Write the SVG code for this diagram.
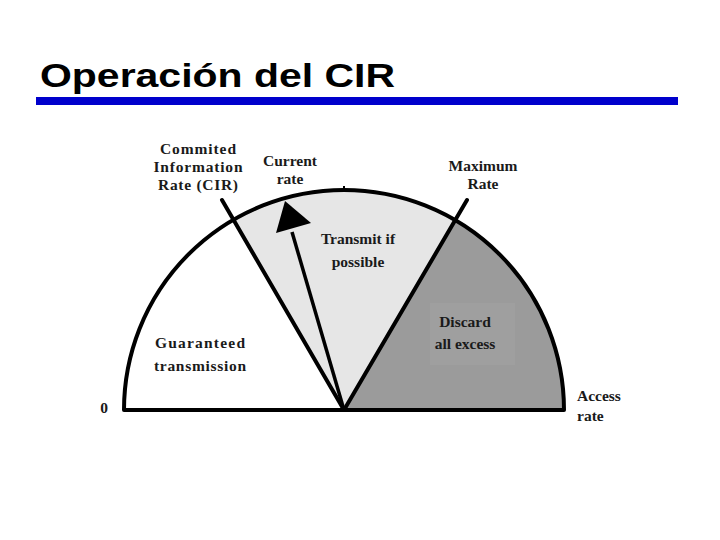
<svg xmlns="http://www.w3.org/2000/svg" width="720" height="540" viewBox="0 0 720 540">
<style>
.lbl{font-family:"Liberation Serif","Times New Roman",serif;font-weight:bold;font-size:15.5px;fill:#1a1a1a;text-anchor:middle}
.start{text-anchor:start}
.edge{stroke:#000;stroke-width:4;fill:none;stroke-linecap:round}
</style>
<rect width="720" height="540" fill="#fff"/>
<g id="title">
<text x="40" y="87" font-family="Liberation Sans, Arial, sans-serif" font-weight="bold" font-size="34" textLength="355" lengthAdjust="spacingAndGlyphs" fill="#000">Operación del CIR</text>
<rect x="36" y="97" width="642" height="8" fill="#0000cc"/>
</g>
<g id="sectors">
<path id="transmit-sector" d="M344,410 L233,220 A220,220 0 0 1 454,220 Z" fill="#e6e6e6"/>
<path id="discard-sector" d="M344,410 L454,220 A220,220 0 0 1 564,410 Z" fill="#9b9b9b"/>
<rect x="430" y="303" width="85" height="62" fill="#9f9f9f"/>
</g>
<g id="connectors">
<path class="edge" d="M124,410 A220,220 0 0 1 564,410 Z" stroke-linejoin="round"/>
<line class="edge" x1="344" y1="410" x2="222" y2="200"/>
<line class="edge" x1="344" y1="410" x2="467" y2="200"/>
<line x1="344" y1="410" x2="292" y2="232" stroke="#000" stroke-width="3.5"/>
<polygon points="285,201 276,233 311,223" fill="#000"/>
<line x1="344" y1="186" x2="344" y2="190" stroke="#000" stroke-width="2"/>
</g>
<g id="label-cir">
<text class="lbl" x="198" y="154" textLength="76">Commited</text>
<text class="lbl" x="198" y="172" textLength="89">Information</text>
<text class="lbl" x="198" y="190" textLength="80">Rate (CIR)</text>
</g>
<g id="label-current">
<text class="lbl" x="290" y="166">Current</text>
<text class="lbl" x="290" y="184">rate</text>
</g>
<g id="label-max">
<text class="lbl" x="483" y="171">Maximum</text>
<text class="lbl" x="483" y="189">Rate</text>
</g>
<g id="label-transmit">
<text class="lbl" x="358" y="244">Transmit if</text>
<text class="lbl" x="358" y="267">possible</text>
</g>
<g id="label-guaranteed">
<text class="lbl" x="200" y="348" textLength="90">Guaranteed</text>
<text class="lbl" x="200" y="371" textLength="92">transmission</text>
</g>
<g id="label-discard">
<text class="lbl" x="465" y="327">Discard</text>
<text class="lbl" x="465" y="349">all excess</text>
</g>
<g id="label-zero">
<text class="lbl" x="104" y="413">0</text>
</g>
<g id="label-access">
<text class="lbl start" x="577" y="401">Access</text>
<text class="lbl start" x="577" y="421">rate</text>
</g>
</svg>
